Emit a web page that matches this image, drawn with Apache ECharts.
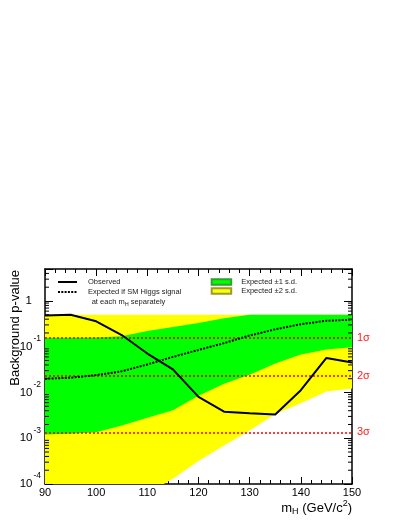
<!DOCTYPE html>
<html>
<head>
<meta charset="utf-8">
<script src="https://cdn.jsdelivr.net/npm/echarts@6/dist/echarts.min.js"></script>
<style>
html, body { margin: 0; padding: 0; background: #fff; }
#chart { width: 403px; height: 522px; }
</style>
</head>
<body>
<div id="chart"></div>
<script>
// Higgs mass points (GeV/c^2)
const mass = [90, 95, 100, 105, 110, 115, 120, 125, 130, 135, 140, 145, 150];
// observed background p-value
const observed = [0.48, 0.50, 0.36, 0.18, 0.071, 0.032, 0.008, 0.0038, 0.0035, 0.0033, 0.0112, 0.057, 0.045];
// expected if SM Higgs signal at each mH
const expected = [0.020, 0.021, 0.024, 0.029, 0.041, 0.060, 0.085, 0.12, 0.176, 0.24, 0.31, 0.37, 0.39];
// +-1 s.d. band
const band1Low = [0.0012, 0.00125, 0.00135, 0.0019, 0.0028, 0.0041, 0.0085, 0.0155, 0.0245, 0.043, 0.068, 0.087, 0.098];
const band1High = [0.158, 0.158, 0.16, 0.17, 0.22, 0.27, 0.33, 0.42, 0.5, 0.5, 0.5, 0.5, 0.5];
// +-2 s.d. band
const band2Low = [1.6e-6, 4e-6, 1e-5, 2.5e-5, 6.3e-5, 1.3e-4, 3.2e-4, 6.9e-4, 0.00148, 0.0034, 0.0058, 0.0105, 0.0123];
const band2High = [0.5, 0.5, 0.5, 0.5, 0.5, 0.5, 0.5, 0.5, 0.5, 0.5, 0.5, 0.5, 0.5];
// significance lines
const sigmaValues = [0.1587, 0.02275, 0.00135];
const sigmaLabels = ['1σ', '2σ', '3σ'];
// axis ticks
const xTicks = [90, 100, 110, 120, 130, 140, 150];
const yMin = 1e-4, yMax = 5;

const font = 'Liberation Sans';

// log minor ticks 2..9 x 10^n
const minorTicks = [];
for (let e = -4; e <= 0; e++) {
  for (let m = 2; m <= 9; m++) {
    const v = m * Math.pow(10, e);
    if (v < yMax) minorTicks.push(v);
  }
}

function bandRender(low, high, color) {
  return function (params, api) {
    const pts = [];
    for (let i = 0; i < mass.length; i++) pts.push(api.coord([mass[i], high[i]]));
    for (let i = mass.length - 1; i >= 0; i--) pts.push(api.coord([mass[i], low[i]]));
    const cs = params.coordSys;
    return {
      type: 'polygon',
      shape: { points: pts },
      style: { fill: color },
      clipPath: { type: 'rect', shape: { x: cs.x, y: cs.y, width: cs.width, height: cs.height } }
    };
  };
}

function tickRender(params, api) {
  const xa = xTicks[0], xb = xTicks[xTicks.length - 1];
  const children = [];
  minorTicks.forEach(function (v) {
    const l = api.coord([xa, v]);
    const r = api.coord([xb, v]);
    children.push({ type: 'line', shape: { x1: l[0], y1: l[1], x2: l[0] + 4, y2: l[1] }, style: { stroke: '#000', lineWidth: 1 } });
    children.push({ type: 'line', shape: { x1: r[0], y1: r[1], x2: r[0] - 4, y2: r[1] }, style: { stroke: '#000', lineWidth: 1 } });
  });
  return { type: 'group', children: children };
}

const chart = echarts.init(document.getElementById('chart'));

const xAxisBase = {
  type: 'value',
  min: xTicks[0],
  max: xTicks[xTicks.length - 1],
  interval: 10,
  axisLine: { show: true, onZero: false, lineStyle: { color: '#000', width: 1.5 } },
  axisTick: { show: true, inside: true, length: 7, lineStyle: { color: '#000' } },
  minorTick: { show: true, splitNumber: 5, length: 4, lineStyle: { color: '#000' } },
  splitLine: { show: false }
};

const yAxisBase = {
  type: 'log',
  logBase: 10,
  min: yMin,
  max: yMax,
  axisLine: { show: true, lineStyle: { color: '#000', width: 1.5 } },
  axisTick: { show: true, inside: true, length: 8, lineStyle: { color: '#000' } },
  splitLine: { show: false }
};

chart.setOption({
  animation: false,
  backgroundColor: '#fff',
  grid: { left: 45, right: 51, top: 269, bottom: 38 },
  xAxis: [
    Object.assign({}, xAxisBase, {
      position: 'bottom',
      axisLabel: { show: true, margin: 3, fontSize: 11, color: '#000', fontFamily: font,
        showMinLabel: true, showMaxLabel: true }
    }),
    Object.assign({}, xAxisBase, { position: 'top', axisLabel: { show: false } })
  ],
  yAxis: [
    Object.assign({}, yAxisBase, {
      position: 'left',
      axisLabel: {
        show: true, margin: 4, color: '#000', fontFamily: font,
        showMinLabel: true, showMaxLabel: true,
        formatter: function (v) {
          const lg = Math.log10(v);
          const e = Math.round(lg);
          if (Math.abs(lg - e) > 1e-6) return '';
          if (e === 0) return '{b|1}{pad| }';
          return '{b|10}{s|' + e + '}';
        },
        rich: {
          b: { fontSize: 11.5, fontFamily: font, color: '#000' },
          s: { fontSize: 8.5, fontFamily: font, color: '#000', padding: [0, 0, 16, 1] },
          pad: { fontSize: 8.5, width: 9 }
        }
      }
    }),
    Object.assign({}, yAxisBase, { position: 'right', axisLabel: { show: false } })
  ],
  legend: [
    {
      left: 57, top: 278, padding: 0, orient: 'vertical',
      itemWidth: 19, itemHeight: 8, itemGap: 2, selectedMode: false,
      data: ['Observed', 'Expected if SM Higgs signal'],
      itemStyle: { opacity: 0 },
      textStyle: { fontSize: 7.5, color: '#222', fontFamily: font, padding: [0, 0, 0, 6] }
    },
    {
      left: 210.7, top: 278, padding: 0, orient: 'vertical',
      itemWidth: 19.5, itemHeight: 5.5, itemGap: 1, selectedMode: false, icon: 'rect',
      data: ['Expected ±1 s.d.', 'Expected ±2 s.d.'],
      textStyle: { fontSize: 7.5, color: '#222', fontFamily: font, padding: [0, 0, 0, 5] }
    }
  ],
  graphic: [
    {
      type: 'text', x: 15.5, y: 270, rotation: Math.PI / 2,
      style: { text: 'Background p-value', font: '13px "Liberation Sans"', fill: '#000',
        align: 'right', verticalAlign: 'middle' }
    },
    {
      type: 'text', x: 352, y: 508,
      style: {
        text: '{a|m}{sub|H}{a| (GeV/c}{sup|2}{a|)}',
        align: 'right', verticalAlign: 'middle',
        rich: {
          a: { fontSize: 13, fontFamily: font, fill: '#000' },
          sub: { fontSize: 9, fontFamily: font, fill: '#000', padding: [7, 0, 0, 0] },
          sup: { fontSize: 9, fontFamily: font, fill: '#000', padding: [0, 0, 9, 0] }
        }
      }
    },
    {
      type: 'text', x: 91.7, y: 302,
      style: {
        text: '{a|at each m}{sub|H}{a| separately}',
        align: 'left', verticalAlign: 'middle',
        rich: {
          a: { fontSize: 7.5, fontFamily: font, fill: '#222' },
          sub: { fontSize: 5.5, fontFamily: font, fill: '#222', padding: [4, 0, 0, 0] }
        }
      }
    }
  ],
  series: [
    {
      name: 'Expected ±2 s.d.',
      type: 'custom',
      data: [[mass[0], 1]],
      itemStyle: { color: '#ffff00', borderColor: '#9a9a30', borderWidth: 1 },
      renderItem: bandRender(band2Low, band2High, '#ffff00'),
      silent: true, z: 1
    },
    {
      name: 'Expected ±1 s.d.',
      type: 'custom',
      data: [[mass[0], 1]],
      itemStyle: { color: '#00ff00', borderColor: '#30a030', borderWidth: 1 },
      renderItem: bandRender(band1Low, band1High, '#00ff00'),
      silent: true, z: 1,
      markLine: {
        silent: true, symbol: 'none', z: 2, precision: 8,
        lineStyle: { color: '#ff0000', type: [2, 2], width: 1.5 },
        label: { show: true, position: 'end', distance: 5, color: '#ff2020', fontSize: 11, fontFamily: font,
          formatter: function (p) { return sigmaLabels[p.dataIndex]; } },
        data: sigmaValues.map(function (v) { return { yAxis: v }; })
      }
    },
    {
      name: 'ticks',
      type: 'custom',
      data: [[mass[0], 1]],
      renderItem: tickRender,
      silent: true, z: 3
    },
    {
      name: 'Expected if SM Higgs signal',
      type: 'line',
      data: mass.map(function (m, i) { return [m, expected[i]]; }),
      symbol: 'none',
      lineStyle: { color: '#000', width: 2, type: [2, 1.3] },
      itemStyle: { color: '#000' },
      z: 4
    },
    {
      name: 'Observed',
      type: 'line',
      data: mass.map(function (m, i) { return [m, observed[i]]; }),
      symbol: 'none',
      lineStyle: { color: '#000', width: 2 },
      itemStyle: { color: '#000' },
      z: 5
    }
  ]
});
</script>
</body>
</html>
